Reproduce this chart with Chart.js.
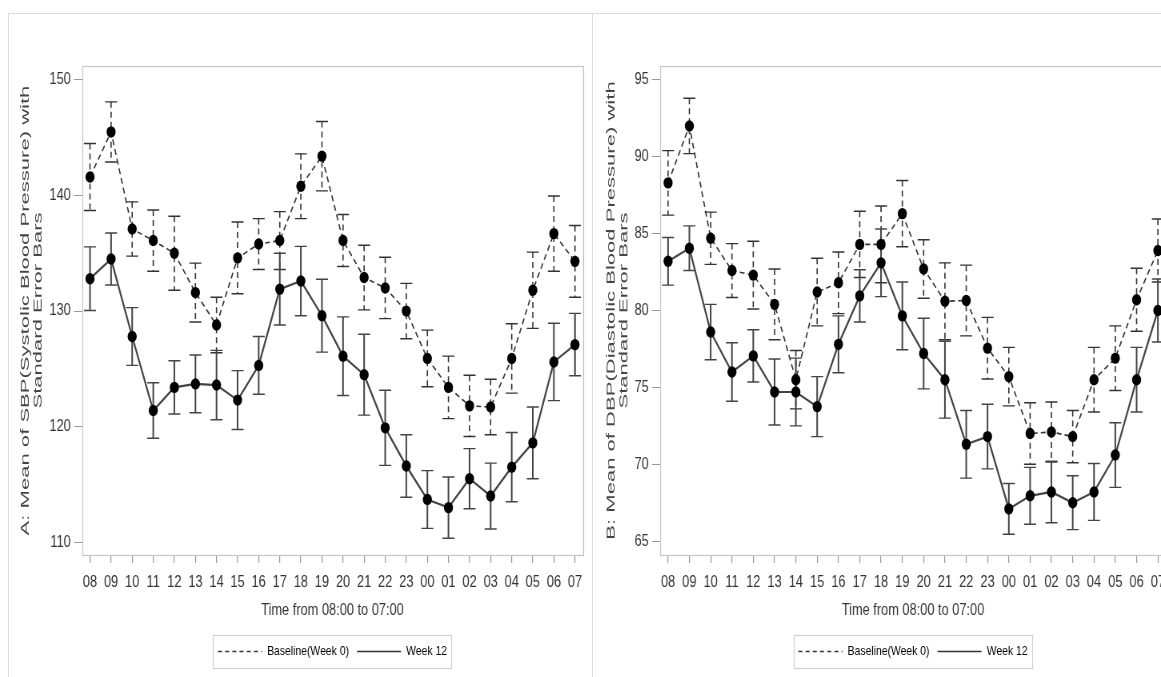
<!DOCTYPE html>
<html>
<head>
<meta charset="utf-8">
<script src="https://cdn.jsdelivr.net/npm/chart.js"></script>
<style>
  html, body { margin: 0; padding: 0; background: #fff; overflow: hidden; }
  body { width: 1161px; height: 677px; position: relative; }
  .frame { position: absolute; border: 1px solid #dcdcdc; }
  #frameA { left: 8px; top: 13px; width: 583px; height: 720px; }
  #frameB { left: 592px; top: 13px; width: 720px; height: 720px; }
  /* the original figure is squeezed sideways: draw wide, then scale x by 0.8 */
  canvas { position: absolute; top: 0; transform-origin: 0 0; transform: scaleX(0.8); }
  #chartA { left: 0; }
  #chartB { left: 593px; }
</style>
</head>
<body>
<div class="frame" id="frameA"></div>
<div class="frame" id="frameB"></div>
<canvas id="chartA" width="740" height="677"></canvas>
<canvas id="chartB" width="737" height="677"></canvas>
<script>
// hours of the day, 08:00 through 07:00
const hours = ['08','09','10','11','12','13','14','15','16','17','18','19',
               '20','21','22','23','00','01','02','03','04','05','06','07'];

// A: systolic blood pressure (mean and standard error)
const sbpBase   = [141.6,145.5,137.1,136.1,135.0,131.6,128.8,134.6,135.8,136.1,140.8,143.4,
                   136.1,132.9,132.0,130.0,125.9,123.4,121.8,121.7,125.9,131.8,136.7,134.3];
const sbpBaseSE = [2.9,2.6,2.35,2.65,3.2,2.55,2.4,3.1,2.2,2.5,2.8,3.0,
                   2.25,2.8,2.65,2.4,2.45,2.7,2.65,2.4,3.0,3.3,3.25,3.1];
const sbpWk12   = [132.8,134.5,127.8,121.4,123.4,123.7,123.6,122.3,125.3,131.9,132.6,129.6,
                   126.1,124.5,119.9,116.6,113.7,113.0,115.5,114.0,116.5,118.6,125.6,127.1];
const sbpWk12SE = [2.75,2.25,2.5,2.4,2.3,2.5,3.0,2.55,2.5,3.1,3.0,3.15,
                   3.4,3.5,3.25,2.7,2.5,2.65,2.6,2.85,3.0,3.1,3.35,2.7];
const sbpTicks  = [110,120,130,140,150];

// B: diastolic blood pressure (mean and standard error)
const dbpBase   = [88.3,92.0,84.7,82.6,82.3,80.4,75.5,81.2,81.8,84.3,84.3,86.3,
                   82.7,80.6,80.65,77.55,75.7,72.0,72.1,71.8,75.5,76.9,80.7,83.9];
const dbpBaseSE = [2.1,1.8,1.7,1.75,2.2,2.3,1.9,2.2,2.0,2.15,2.5,2.15,
                   1.9,2.5,2.3,2.0,1.9,2.0,1.95,1.7,2.1,2.1,2.05,2.05];
const dbpWk12   = [83.2,84.05,78.6,76.0,77.05,74.7,74.7,73.75,77.8,80.95,83.1,79.65,
                   77.2,75.5,71.3,71.8,67.1,67.95,68.2,67.5,68.2,70.6,75.5,80.0];
const dbpWk12SE = [1.55,1.45,1.8,1.9,1.7,2.15,2.2,1.95,1.85,1.7,2.2,2.2,
                   2.3,2.5,2.2,2.1,1.65,1.85,2.0,1.75,1.85,2.1,2.1,2.05];
const dbpTicks  = [65,70,75,80,85,90,95];

const sans = "'Liberation Sans', Arial, sans-serif";
const ink = '#333';

// vertical error bars, drawn through the chart's own scales
const errorBars = {
  id: 'errorBars',
  beforeDatasetsDraw(chart) {
    const ctx = chart.ctx, y = chart.scales.y;
    chart.data.datasets.forEach((ds, i) => {
      const meta = chart.getDatasetMeta(i);
      ctx.save();
      ctx.strokeStyle = ds.borderColor;
      ctx.lineWidth = ds.errWidth;
      meta.data.forEach((pt, j) => {
        const v = ds.means[j], se = ds.se[j];
        const top = y.getPixelForValue(v + se), bot = y.getPixelForValue(v - se);
        ctx.setLineDash(ds.borderDash || []);
        ctx.beginPath();
        ctx.moveTo(pt.x, top); ctx.lineTo(pt.x, bot);
        ctx.stroke();
        ctx.setLineDash([]);
        ctx.lineWidth = 1.4;
        ctx.beginPath();
        ctx.moveTo(pt.x - 7.5, top); ctx.lineTo(pt.x + 7.5, top);
        ctx.moveTo(pt.x - 7.5, bot); ctx.lineTo(pt.x + 7.5, bot);
        ctx.stroke();
        ctx.lineWidth = ds.errWidth;
      });
      ctx.restore();
    });
  }
};

// y-axis title, two rotated lines stretched along their length like the original
const yTitle = {
  id: 'yTitle',
  afterDraw(chart) {
    const t = chart.options.plugins.yTitle;
    const ctx = chart.ctx, a = chart.chartArea;
    const cy = (a.top + a.bottom) / 2;
    ctx.save();
    ctx.fillStyle = '#444';
    ctx.font = '15px ' + sans;
    ctx.textAlign = 'center';
    ctx.textBaseline = 'middle';
    t.lines.forEach((line, i) => {
      ctx.save();
      ctx.translate(t.x + i * t.gap, cy);
      ctx.rotate(-Math.PI / 2);
      ctx.scale(1.47, 1);
      ctx.fillText(line, 0, 0);
      ctx.restore();
    });
    ctx.restore();
  }
};

// plot frame, and a legend centred under the plot area with a box round it
const frameAndLegend = {
  id: 'frameAndLegend',
  afterLayout(chart) {
    chart.legend.left = chart.chartArea.left;
    chart.legend.right = chart.chartArea.right;
  },
  afterDraw(chart) {
    const ctx = chart.ctx, a = chart.chartArea, lg = chart.legend;
    ctx.save();
    ctx.strokeStyle = '#c4c4c4';
    ctx.lineWidth = 1.2;
    ctx.strokeRect(Math.round(a.left) + 0.5, Math.round(a.top) + 0.5,
                   Math.round(a.right - a.left), Math.round(a.bottom - a.top));
    const pad = lg.options.labels.padding;
    const x0 = (lg.left + pad + lg.right - lg.lineWidths[0]) / 2;
    const x1 = x0 + lg.lineWidths[0] - pad;
    ctx.strokeStyle = '#d0d0d0';
    ctx.lineWidth = 1.2;
    ctx.strokeRect(Math.round(x0 - 6) + 0.5, Math.round(lg.top) + 0.5,
                   Math.round(x1 - x0 + 12), Math.round(lg.bottom - lg.top));
    ctx.restore();
  }
};

function makeChart(id, cfg) {
  const pts = vals => vals.map((v, i) => ({ x: i, y: v }));
  return new Chart(document.getElementById(id), {
    type: 'line',
    data: {
      datasets: [
        { label: 'Baseline(Week 0)', data: pts(cfg.base), means: cfg.base, se: cfg.baseSE,
          borderColor: ink, borderWidth: 1.6, borderDash: [6, 4], errWidth: 1.6,
          pointRadius: 5.7, pointBackgroundColor: '#000', pointBorderWidth: 0 },
        { label: 'Week 12', data: pts(cfg.wk), means: cfg.wk, se: cfg.wkSE,
          borderColor: '#444', borderWidth: 2.2, borderDash: [], errWidth: 2,
          pointRadius: 5.7, pointBackgroundColor: '#000', pointBorderWidth: 0 }
      ]
    },
    options: {
      responsive: false,
      animation: false,
      devicePixelRatio: 1,
      layout: { padding: { top: 66, right: cfg.padRight, bottom: 9, left: 0 } },
      scales: {
        x: {
          type: 'linear', min: -0.38, max: 23.38,
          afterBuildTicks: s => { s.ticks = hours.map((h, i) => ({ value: i })); },
          afterFit: s => { s.height = 80; },
          ticks: { callback: v => hours[v], autoSkip: false, maxRotation: 0, padding: 10,
                   color: ink, font: { family: sans, size: 16 } },
          grid: { drawOnChartArea: false, tickLength: 8, color: '#999', lineWidth: 1.2 },
          border: { display: false },
          title: { display: true, text: 'Time from 08:00 to 07:00', color: ink,
                   font: { family: sans, size: 16 }, padding: { top: 0, bottom: 15 } }
        },
        y: {
          min: cfg.yMin, max: cfg.yMax,
          afterBuildTicks: s => { s.ticks = cfg.yTicks.map(v => ({ value: v })); },
          afterFit: s => { s.width = cfg.yWidth; },
          ticks: { padding: 4, color: ink, font: { family: sans, size: 16 } },
          grid: { drawOnChartArea: false, tickLength: 10, color: '#999' },
          border: { display: false },
          title: { display: false }
        }
      },
      plugins: {
        tooltip: { enabled: false },
        yTitle: { lines: cfg.title, x: cfg.titleX, gap: cfg.titleGap },
        legend: {
          position: 'bottom',
          labels: {
            usePointStyle: true, pointStyleWidth: 55, padding: 10, color: ink,
            font: { family: sans, size: 13 },
            generateLabels: () => [
              { text: 'Baseline(Week 0)', strokeStyle: ink, fillStyle: ink, lineWidth: 1.4,
                lineDash: [5, 4], pointStyle: 'line', rotation: 0, hidden: false, datasetIndex: 0 },
              { text: 'Week 12', strokeStyle: ink, fillStyle: ink, lineWidth: 1.6,
                lineDash: [], pointStyle: 'line', rotation: 0, hidden: false, datasetIndex: 1 }
            ]
          }
        }
      }
    },
    plugins: [errorBars, frameAndLegend, yTitle]
  });
}

makeChart('chartA', {
  base: sbpBase, baseSE: sbpBaseSE, wk: sbpWk12, wkSE: sbpWk12SE,
  yMin: 108.9, yMax: 151.2, yTicks: sbpTicks, yWidth: 102.5, padRight: 11.25,
  title: ['A: Mean of SBP(Systolic Blood Pressure) with', 'Standard Error Bars'],
  titleX: 31.5, titleGap: 16
});

makeChart('chartB', {
  base: dbpBase, baseSE: dbpBaseSE, wk: dbpWk12, wkSE: dbpWk12SE,
  yMin: 64.1, yMax: 95.9, yTicks: dbpTicks, yWidth: 83.75, padRight: 20.75,
  title: ['B: Mean of DBP(Diastolic Blood Pressure) with', 'Standard Error Bars'],
  titleX: 22.5, titleGap: 16
});
</script>
</body>
</html>
